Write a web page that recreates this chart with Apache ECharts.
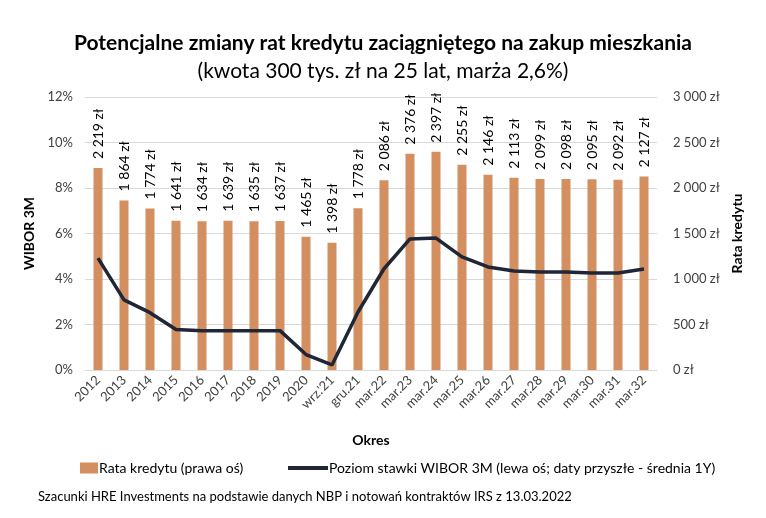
<!DOCTYPE html>
<html><head><meta charset="utf-8">
<script src="https://cdn.jsdelivr.net/npm/echarts@6/dist/echarts.min.js"></script>
<style>html,body{margin:0;padding:0;background:#fff}#c{width:766px;height:518px}</style>
</head><body><div id="c"></div>
<script>
const cats = ["2012","2013","2014","2015","2016","2017","2018","2019","2020","wrz.'21","gru.21","mar.22","mar.23","mar.24","mar.25","mar.26","mar.27","mar.28","mar.29","mar.30","mar.31","mar.32"];
const rata = [2219,1864,1774,1641,1634,1639,1635,1637,1465,1398,1778,2086,2376,2397,2255,2146,2113,2099,2098,2095,2092,2127];
const wibor = [4.92,3.08,2.52,1.78,1.73,1.73,1.73,1.73,0.68,0.22,2.55,4.45,5.76,5.80,4.97,4.53,4.35,4.31,4.31,4.26,4.26,4.44];
const leftTicks = {min:0,max:12,interval:2};
const rightTicks = {min:0,max:3000,interval:500};

const FONT = 'Lato';
const fmtZl = v => String(v).replace(/\B(?=(\d{3})+(?!\d))/g,' ') + ' zł';
const chart = echarts.init(document.getElementById('c'), null, {renderer:'canvas'});
chart.setOption({
  animation:false,
  textStyle:{fontFamily:FONT},
  title:[
    {text:'Potencjalne zmiany rat kredytu zaciągniętego na zakup mieszkania', left:'center', top:28,
     textStyle:{fontFamily:FONT,fontSize:21,fontWeight:'bold',color:'#000'}},
    {text:'(kwota 300 tys. zł na 25 lat, marża 2,6%)', left:'center', top:56,
     textStyle:{fontFamily:FONT,fontSize:21,fontWeight:'normal',color:'#000'}},
    {text:'Szacunki HRE Investments na podstawie danych NBP i notowań kontraktów IRS z 13.03.2022', left:33, top:485,
     textStyle:{fontFamily:FONT,fontSize:13,fontWeight:'normal',color:'#000'}}
  ],
  legend:[
    {data:[{name:'Rata kredytu (prawa oś)',icon:'rect'}], left:75, top:456, itemWidth:18, itemHeight:11, itemGap:0,
     textStyle:{fontFamily:FONT,fontSize:14,color:'#000',padding:[0,0,0,-4]}},
    {data:[{name:'Poziom stawki WIBOR 3M (lewa oś; daty przyszłe - średnia 1Y)',icon:'rect'}], left:283, top:456, itemWidth:40, itemHeight:4,
     textStyle:{fontFamily:FONT,fontSize:14,color:'#000',padding:[0,0,0,-4]}}
  ],
  grid:{left:85,right:109,top:97,bottom:148,containLabel:false},
  xAxis:{type:'category',data:cats,
    name:'Okres',nameLocation:'middle',nameGap:63,
    nameTextStyle:{fontFamily:FONT,fontSize:14,fontWeight:'bold',color:'#000'},
    axisLine:{lineStyle:{color:'#d9d9d9'}},axisTick:{show:false},
    axisLabel:{rotate:45,fontFamily:FONT,fontSize:13,color:'#404040',interval:0,margin:8}},
  yAxis:[
    {type:'value',...leftTicks,position:'left',
     name:'WIBOR 3M',nameLocation:'middle',nameRotate:90,nameGap:46,
     nameTextStyle:{fontFamily:FONT,fontSize:14,fontWeight:'bold',color:'#000'},
     axisLabel:{formatter:'{value}%',fontFamily:FONT,fontSize:13,color:'#404040',margin:12},
     axisLine:{show:false},axisTick:{show:false},
     splitLine:{lineStyle:{color:'#d9d9d9'}}},
    {type:'value',...rightTicks,position:'right',
     name:'Rata kredytu',nameLocation:'middle',nameRotate:90,nameGap:67,
     nameTextStyle:{fontFamily:FONT,fontSize:14,fontWeight:'bold',color:'#000'},
     axisLabel:{formatter:v=>fmtZl(v),fontFamily:FONT,fontSize:13,color:'#404040',margin:16},
     axisLine:{show:false},axisTick:{show:false},splitLine:{show:false}}
  ],
  series:[
    {name:'Rata kredytu (prawa oś)',type:'bar',yAxisIndex:1,data:rata,barWidth:9,
     itemStyle:{color:'#D38F5F'},
     label:{show:true,position:'top',rotate:90,align:'left',verticalAlign:'middle',distance:9,
       formatter:p=>fmtZl(p.value),fontFamily:FONT,fontSize:14,color:'#000'}},
    {name:'Poziom stawki WIBOR 3M (lewa oś; daty przyszłe - średnia 1Y)',type:'line',yAxisIndex:0,data:wibor,
     symbol:'none',lineStyle:{color:'#1F2637',width:3.5},itemStyle:{color:'#1F2637'}}
  ]
});
</script></body></html>
